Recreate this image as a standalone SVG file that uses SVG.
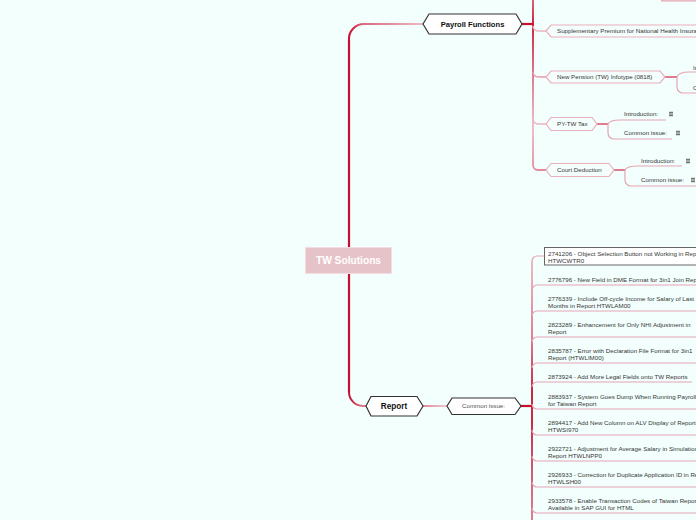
<svg xmlns="http://www.w3.org/2000/svg" width="696" height="520" viewBox="0 0 696 520">
<style>
text{font-family:"Liberation Sans",Arial,sans-serif}
.t{font-size:6.2px;fill:#363636}
.hx{fill:#ffffff;stroke:#333;stroke-width:1.2}
.sh{fill:#f4fefc;stroke:#e9b0bc;stroke-width:1.2}
.ul{fill:none;stroke:#e6a5b3;stroke-width:1.2}
.red{fill:none;stroke:#c8102e;stroke-width:2.2}
.jn{fill:none;stroke:#d9506c;stroke-width:1.5}
.ic{stroke:#444;stroke-width:0.9}
</style>
<defs>
<linearGradient id="gTop" gradientUnits="userSpaceOnUse" x1="349" y1="0" x2="423" y2="0">
<stop offset="0" stop-color="#c8102e"/><stop offset="0.2" stop-color="#dc6a82"/><stop offset="1" stop-color="#ebbac4"/>
</linearGradient>
<linearGradient id="gBot" gradientUnits="userSpaceOnUse" x1="349" y1="0" x2="366" y2="0">
<stop offset="0" stop-color="#c8102e"/><stop offset="1" stop-color="#e58a9c"/>
</linearGradient>
<linearGradient id="gRC" gradientUnits="userSpaceOnUse" x1="423" y1="0" x2="447" y2="0">
<stop offset="0" stop-color="#e06a82"/><stop offset="1" stop-color="#ecbcc6"/>
</linearGradient>
<linearGradient id="gPV" gradientUnits="userSpaceOnUse" x1="0" y1="0" x2="0" y2="170">
<stop offset="0" stop-color="#d8506c"/><stop offset="0.14" stop-color="#c8102e"/><stop offset="0.45" stop-color="#dc7088"/><stop offset="0.75" stop-color="#eab8c2"/><stop offset="1" stop-color="#e68a9c"/>
</linearGradient>
<linearGradient id="gRV" gradientUnits="userSpaceOnUse" x1="0" y1="258" x2="0" y2="520">
<stop offset="0" stop-color="#eab5c0"/><stop offset="0.3" stop-color="#e07088"/><stop offset="0.5" stop-color="#c8102e"/><stop offset="0.62" stop-color="#c8102e"/><stop offset="0.82" stop-color="#d24a66"/><stop offset="1" stop-color="#dc7088"/>
</linearGradient>
</defs>
<rect width="696" height="520" fill="#f2fffc"/>

<g id="connectors">
<path d="M349,247 V40" class="red" stroke-width="2.6"/>
<path d="M349,40 A15,15 0 0 1 364,24 H423" fill="none" stroke="url(#gTop)" stroke-width="2"/>
<path d="M349,273 V392" class="red" stroke-width="2.6"/>
<path d="M349,392 A14,14 0 0 0 363,406 H366" fill="none" stroke="url(#gBot)" stroke-width="2"/>
<path d="M423,406 H447" fill="none" stroke="url(#gRC)" stroke-width="1.6"/>
<path d="M522,24 H533" class="red"/>
<path d="M521,406 H532" class="red"/>
<path d="M533,0 V165 A5,5 0 0 0 538,170 H546" fill="none" stroke="url(#gPV)" stroke-width="1.8"/>
<path d="M533,26 A5,5 0 0 0 538,31 H546" fill="none" stroke="#eab5c0" stroke-width="1.4"/>
<path d="M533,72 A5,5 0 0 0 538,77 H546" fill="none" stroke="#e89aaa" stroke-width="1.4"/>
<path d="M533,119 A5,5 0 0 0 538,124 H546" fill="none" stroke="#eab5c0" stroke-width="1.4"/>
<path d="M658,-5 L662,0.8 H700" class="ul"/>
<path d="M665,77 H677" class="jn"/>
<path d="M677,77 Q679,72 689,72 H700" class="ul"/>
<path d="M677,77 V87 A6,6 0 0 0 683,93 H700" class="ul"/>
<path d="M597,124 H608" class="jn"/>
<path d="M608,124 Q610,120 620,120 H666" class="ul"/>
<path d="M608,124 V133 A6,6 0 0 0 614,139 H672" class="ul"/>
<path d="M614,170 H625" class="jn"/>
<path d="M625,170 Q627,166 637,166 H682" class="ul"/>
<path d="M625,170 V180 A6,6 0 0 0 631,186 H700" class="ul"/>
<path d="M532,261 V520" fill="none" stroke="url(#gRV)" stroke-width="1.8"/>
<path d="M532,261 A5,5 0 0 1 537,256 H544" class="ul"/>
<path d="M532,290 A5,5 0 0 1 537,285 H700" class="ul"/>
<path d="M532,316 A5,5 0 0 1 537,311 H700" class="ul"/>
<path d="M532,342 A5,5 0 0 1 537,337 H700" class="ul"/>
<path d="M532,368 A5,5 0 0 1 537,363 H700" class="ul"/>
<path d="M532,387 A5,5 0 0 1 537,382 H692" class="ul"/>
<path d="M532,404 A5,5 0 0 0 537,409 H700" class="ul"/>
<path d="M532,430 A5,5 0 0 0 537,435 H700" class="ul"/>
<path d="M532,456 A5,5 0 0 0 537,461 H700" class="ul"/>
<path d="M532,482 A5,5 0 0 0 537,487 H700" class="ul"/>
<path d="M532,508 A5,5 0 0 0 537,513 H700" class="ul"/>
</g>

<g id="root">
<rect x="305.5" y="247.5" width="86" height="26" fill="#e6c3c9" stroke="#f3dde1" stroke-width="1"/>
<text x="348.5" y="263.6" text-anchor="middle" font-size="10.2" font-weight="bold" fill="#ffffff">TW Solutions</text>
</g>

<g id="payroll">
<polygon class="hx" points="423,24 429,14 516,14 522,24 516,34 429,34"/>
<text x="472.5" y="26.8" text-anchor="middle" font-size="7.6" font-weight="bold" fill="#111">Payroll Functions</text>
</g>

<g id="supplementary">
<polygon class="sh" points="546,31 551,25 710,25 710,37 551,37"/>
<text class="t" x="557" y="33.2">Supplementary Premium for National Health Insurance</text>
</g>

<g id="newpension">
<polygon class="sh" points="546,77 551,71 660,71 665,77 660,83 551,83"/>
<text class="t" x="557" y="79.2">New Pension (TW) Infotype (0818)</text>
</g>
<g id="np-intro"><text class="t" x="693" y="69.5">Introduction:</text></g>
<g id="np-common"><text class="t" x="693" y="89.5">Common issue:</text></g>

<g id="pytw">
<polygon class="sh" points="546,124 551,117.5 592,117.5 597,124 592,130.5 551,130.5"/>
<text class="t" x="557" y="126.2">PY-TW Tax</text>
</g>
<g id="py-intro">
<text class="t" x="624" y="116.2">Introduction:</text>
<path class="ic" d="M669,112.3 h4 M669,114 h4 M669,115.7 h4"/>
</g>
<g id="py-common">
<text class="t" x="624" y="135.4">Common issue:</text>
<path class="ic" d="M676,131.3 h4 M676,133 h4 M676,134.7 h4"/>
</g>

<g id="court">
<polygon class="sh" points="546,170 551,163.5 609,163.5 614,170 609,176.5 551,176.5"/>
<text class="t" x="557" y="172.2">Court Deduction</text>
</g>
<g id="court-intro">
<text class="t" x="641" y="163">Introduction:</text>
<path class="ic" d="M686,159.3 h4 M686,161 h4 M686,162.7 h4"/>
</g>
<g id="court-common">
<text class="t" x="641" y="182.2">Common issue:</text>
<path class="ic" d="M691,178.3 h4 M691,180 h4 M691,181.7 h4"/>
</g>

<g id="report">
<polygon class="hx" points="366,406 371,396.5 417,396.5 423,406 417,416 371,416"/>
<text x="394" y="409" text-anchor="middle" font-size="8.2" font-weight="bold" fill="#111">Report</text>
</g>

<g id="common-issue">
<polygon class="hx" points="447,406 452,398 515,398 521,406 515,414.5 452,414.5"/>
<text x="483.5" y="408.3" text-anchor="middle" font-size="6.2" fill="#555">Common issue:</text>
</g>

<g id="item1">
<rect x="544.5" y="247.5" width="160" height="17.5" fill="#ffffff" stroke="#666" stroke-width="1"/>
<text class="t" x="548" y="256">2741206 - Object Selection Button not Working in Report</text>
<text class="t" x="548" y="262.5">HTWCWTR0</text>
</g>
<g id="item2"><text class="t" x="548" y="281.5">2776796 - New Field in DME Format for 3in1 Join Report</text></g>
<g id="item3">
<text class="t" x="548" y="300.6">2776339 - Include Off-cycle Income for Salary of Last</text>
<text class="t" x="548" y="307.5">Months in Report HTWLAM00</text>
</g>
<g id="item4">
<text class="t" x="548" y="326.6">2823289 - Enhancement for Only NHI Adjustment in</text>
<text class="t" x="548" y="333.5">Report</text>
</g>
<g id="item5">
<text class="t" x="548" y="352.6">2835787 - Error with Declaration File Format for 3in1</text>
<text class="t" x="548" y="359.5">Report (HTWLIM00)</text>
</g>
<g id="item6"><text class="t" x="548" y="378.6">2873924 - Add More Legal Fields onto TW Reports</text></g>
<g id="item7">
<text class="t" x="548" y="398.6">2883937 - System Goes Dump When Running Payroll</text>
<text class="t" x="548" y="405.5">for Taiwan Report</text>
</g>
<g id="item8">
<text class="t" x="548" y="424.6">2894417 - Add New Column on ALV Display of Report</text>
<text class="t" x="548" y="431.5">HTWSI970</text>
</g>
<g id="item9">
<text class="t" x="548" y="450.6">2922721 - Adjustment for Average Salary in Simulation</text>
<text class="t" x="548" y="457.5">Report HTWLNPP0</text>
</g>
<g id="item10">
<text class="t" x="548" y="476.6">2926933 - Correction for Duplicate Application ID in Report</text>
<text class="t" x="548" y="483.5">HTWLSH00</text>
</g>
<g id="item11">
<text class="t" x="548" y="502.6">2933578 - Enable Transaction Codes of Taiwan Report</text>
<text class="t" x="548" y="509.5">Available in SAP GUI for HTML</text>
</g>
</svg>
